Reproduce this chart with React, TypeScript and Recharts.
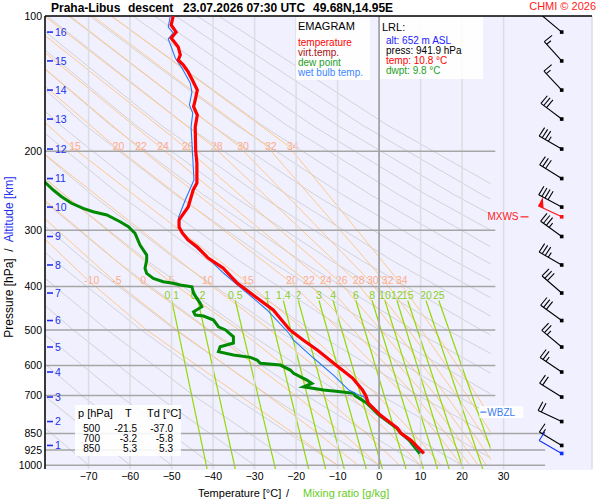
import React from "react";
import {
  ComposedChart,
  Line,
  Scatter,
  XAxis,
  YAxis,
  CartesianGrid,
  ReferenceLine,
} from "recharts";

// Praha-Libus descent 23.07.2026 07:30 UTC, points are [pressure hPa, °C]
const temperature: [number, number][] = [
  [100, -49.6], [104.7, -50.1], [108.6, -48.9], [111.9, -50.1], [117.2, -48.4],
  [122.1, -47.9], [125.3, -48.4], [128.5, -47.2], [133.2, -46.0], [138.8, -45.0],
  [146.2, -43.8], [153.8, -44.3], [159.2, -44.7], [166.1, -43.8], [176.7, -44.3],
  [198.8, -44.2], [212.5, -43.9], [235.4, -43.9], [244.0, -44.8], [266.3, -46.0],
  [281.8, -47.9], [284.7, -48.2], [295.1, -48.2], [304.3, -47.4], [315.3, -46.0],
  [326.9, -43.8], [345.8, -41.2], [364.0, -37.6], [393.1, -34.2], [413.8, -31.0],
  [451.4, -25.5], [500, -21.5], [526.6, -18.3], [554.3, -14.9], [604.9, -9.8],
  [639.9, -6.4], [680.5, -4.0], [700, -3.2], [727.4, -2.6], [773.6, 0.3],
  [826.8, 4.4], [850, 5.3], [879.4, 7.6], [941.9, 10.8],
];

const dewPoint: [number, number][] = [
  [230, -81.5], [244.0, -78.5], [252.5, -76.5], [261.2, -74.1], [268.1, -71.3],
  [272.8, -68.9], [277.4, -65.6], [287.1, -62.4], [294.6, -60.4], [304.8, -58.8],
  [323.6, -57.6], [340.6, -56.0], [349.5, -56.0], [364.6, -56.4], [374.1, -56.0],
  [383.8, -54.4], [390.5, -52.0], [393.7, -49.6], [397.2, -47.9], [400.7, -45.1],
  [414.5, -44.7], [436.3, -43.1], [444.0, -42.7], [455.5, -44.7], [463.3, -44.3],
  [465.5, -42.3], [475.3, -39.9], [491.9, -38.7], [500, -37.0], [517.8, -35.1],
  [534.8, -35.1], [545.0, -38.3], [559.2, -38.7], [568.7, -35.1], [575.5, -31.0],
  [583.5, -29.4], [593.4, -28.6], [598.6, -23.8], [614.2, -21.4], [624.7, -20.6],
  [646.6, -17.4], [657.8, -16.2], [669.3, -18.2], [680.5, -13.4], [686.5, -9.3],
  [692.2, -6.1], [700, -5.8], [727.4, -3.0], [773.6, 0.0], [826.8, 4.2],
  [850, 5.3], [879.4, 7.2], [941.9, 9.8],
];

const wetBulb: [number, number][] = [
  [100, -50.3], [105.8, -50.8], [109.1, -49.6], [112.5, -50.8], [124.0, -49.1],
  [130.6, -47.5], [141.0, -45.5], [147.7, -45.1], [157.8, -45.7], [164.4, -44.9],
  [176.7, -45.3], [198.8, -45.0], [231.8, -44.6], [256.8, -46.7], [280.3, -48.3],
  [295.1, -48.3], [315.3, -46.3], [344.2, -41.5], [373.5, -37.5], [413.8, -31.8],
  [451.4, -27.0], [507.9, -21.8], [526.6, -20.6], [577.5, -15.8], [630.2, -11.0],
  [680.5, -7.3], [698.1, -4.9], [703, -3.8], [773.6, 0.1], [826.8, 4.3],
  [850, 5.3], [879.4, 7.4], [941.9, 10.2],
];

// altitude marks and winds, one per km
const altitudeKm = [16, 15, 14, 13, 12, 11, 10, 9, 8, 7, 6, 5, 4, 3, 2, 1];
const altitudeP = [108.6, 125.9, 146.2, 169.6, 197.8, 230.1, 266.3, 309.7, 358.4, 413.8, 476.5, 545.8, 620.4, 705.3, 799.7, 904.0];
const windDir = [310, 318, 317, 307, 300, 302, 298, 306, 300, 311, 306, 310, 304, 302, 295, 301];
const windKt = [10, 15, 15, 30, 35, 30, 40, 35, 35, 30, 30, 25, 25, 20, 20, 15];

const mxwsP = 280;
const mxwsDir = 295;
const mxwsKt = 50;
const lrlP = 941.9;
const lrlDir = 300;
const lrlKt = 10;
const wbzlP = 762;

// axes
const pressureTicks = [100, 200, 300, 400, 500, 600, 700, 850, 925, 1000];
const tempTicks = [-70, -60, -50, -40, -30, -20, -10, 0, 10, 20, 30];
const upperIsobars = [200, 300, 400, 500, 600, 700];
const lowerIsobars = [850, 925, 1000];

// dry adiabats: °C at each level, one row per line
const dryLevels = [1000, 700, 500, 350, 250, 175, 100];
const dryAdiabats = [
  [-70, -89.7],
  [-60, -80.7, -98.3],
  [-50, -71.6, -90.1],
  [-40, -62.6, -81.9, -100.5],
  [-30, -53.6, -73.7, -93.1],
  [-20, -44.6, -65.5, -85.7],
  [-10, -35.5, -57.3, -78.3, -96.1],
  [0, -26.5, -49.1, -70.9, -89.4],
  [10, -17.5, -40.9, -63.5, -82.7],
  [20, -8.4, -32.7, -56.0, -75.9, -95.1],
  [30, 0.6, -24.5, -48.6, -69.2, -89.0],
  [40, 9.6, -16.3, -41.2, -62.5, -82.9],
  [50, 18.6, -8.1, -33.8, -55.8, -76.8, -105.9],
  [60, 27.7, 0.1, -26.4, -49.0, -70.8, -100.7],
  [70, 36.7, 8.3, -19.0, -42.3, -64.7, -95.5],
  [80, 45.7, 16.5, -11.6, -35.6, -58.6, -90.4],
  [90, 54.8, 24.7, -4.2, -28.9, -52.5, -85.2],
  [100, 63.8, 32.9, 3.2, -22.1, -46.5, -80.0],
  [110, 72.8, 41.1, 10.6, -15.4, -40.4, -74.8],
  [120, 81.9, 49.3, 18.0, -8.7, -34.3, -69.7],
  [130, 90.9, 57.5, 25.4, -2.0, -28.2, -64.5],
  [140, 99.9, 65.7, 32.8, 4.8, -22.2, -59.3],
  [150, 109.0, 73.9, 40.2, 11.5, -16.1, -54.1],
  [160, 118.0, 82.1, 47.6, 18.2, -10.0, -49.0],
  [170, 127.0, 90.3, 55.0, 25.0, -3.9, -43.8],
  [180, 136.0, 98.5, 62.5, 31.7, 2.1, -38.6],
];

// moist adiabats
const moistLevels = [1000, 850, 700, 500, 387, 195, 100];
const moistLabels = [-10, -5, 0, 5, 10, 15, 20, 22, 24, 26, 28, 30, 32, 34];
const moistAdiabats = [
  [-10, -20.5, -33.5, -56.0, -70.2, -104],
  [-5, -14.6, -26.8, -48.7, -64.1, -100],
  [0, -8.7, -20.0, -41.2, -57.8, -96],
  [5, -3.0, -13.5, -33.7, -50.9, -90],
  [10, 2.7, -6.9, -26.2, -42.2, -83],
  [15, 8.4, -0.3, -18.0, -32.5, -74.2, -108.8],
  [20, 14.0, 6.3, -9.5, -21.9, -63.7, -100.2],
  [22, 16.2, 8.8, -6.2, -17.8, -58.3, -95.6],
  [24, 18.4, 11.3, -2.8, -13.7, -53.0, -91.3],
  [26, 20.6, 13.8, 0.5, -9.9, -47.0, -86.4],
  [28, 22.8, 16.3, 3.8, -5.8, -40.0, -80.6],
  [30, 25.0, 18.8, 7.2, -2.4, -33.7, -74.5],
  [32, 27.2, 21.3, 10.3, 1.2, -27.0, -69.0],
  [34, 29.4, 23.7, 13.3, 4.6, -21.7, -64.5],
];

// mixing ratio lines (g/kg): °C at 430 hPa and at 1020 hPa
const mixLevels = [430, 1020];
const mixLabels = ["0.1", "0.2", "0.5", "1", "1.4", "2", "3", "4", "6", "8", "10", "12", "15", "20", "25"];
const mixTop = [-49.9, -43.6, -34.6, -26.9, -23.0, -19.4, -14.4, -11.0, -5.5, -1.6, 1.5, 4.4, 7.0, 11.4, 14.5];
const mixBottom = [-41.4, -34.6, -24.9, -16.9, -12.8, -8.3, -3.0, 0.9, 6.6, 10.8, 14.2, 17.0, 20.4, 25.1, 28.7];

const FONT = '"Liberation Sans", Arial, sans-serif';
const T_MIN = -80.5;
const T_MAX = 51.3;
const T_GUIDE_MAX = 27;
const BARB_T = 44;
const P_DOMAIN: [number, number] = [100, 1020];

const toPts = (rows: [number, number][]) => rows.map(([p, t]) => ({ p, t }));

function Barb(props: any) {
  const { cx, cy, payload } = props;
  if (cx == null || cy == null) return null;
  const col = payload.color;
  const a = (payload.dir * Math.PI) / 180;
  const ux = Math.sin(a);
  const uy = -Math.cos(a);
  // feathers sit on the clockwise side of the staff
  const r = (93 * Math.PI) / 180;
  const fx = ux * Math.cos(r) - uy * Math.sin(r);
  const fy = ux * Math.sin(r) + uy * Math.cos(r);
  const len = 26;
  const tx = cx + ux * len;
  const ty = cy + uy * len;
  const parts: any[] = [];
  let rest = Math.round(payload.kt / 5) * 5;
  let d = 0;
  let k = 0;
  while (rest >= 50) {
    const x0 = tx - ux * d, y0 = ty - uy * d;
    const x1 = tx - ux * (d + 6), y1 = ty - uy * (d + 6);
    parts.push(
      <polygon key={k++} points={`${x0},${y0} ${x0 + fx * 10},${y0 + fy * 10} ${x1},${y1}`} fill={col} />
    );
    d += 7;
    rest -= 50;
  }
  while (rest >= 10) {
    const x0 = tx - ux * d, y0 = ty - uy * d;
    parts.push(<line key={k++} x1={x0} y1={y0} x2={x0 + fx * 10} y2={y0 + fy * 10} stroke={col} strokeWidth={1.1} />);
    d += 3.5;
    rest -= 10;
  }
  if (rest >= 5) {
    if (d === 0) d = 3.5;
    const x0 = tx - ux * d, y0 = ty - uy * d;
    parts.push(<line key={k++} x1={x0} y1={y0} x2={x0 + fx * 5.5} y2={y0 + fy * 5.5} stroke={col} strokeWidth={1.1} />);
  }
  return (
    <g>
      <line x1={cx} y1={cy} x2={tx} y2={ty} stroke={col} strokeWidth={1.1} />
      {parts}
      <rect x={cx - 1.8} y={cy - 1.8} width={3.6} height={3.6} fill={col} />
    </g>
  );
}

function AltTick(props: any) {
  const { cx, cy, payload } = props;
  return (
    <g>
      <line x1={cx + 2} y1={cy} x2={cx + 8} y2={cy} stroke="#2230ee" strokeWidth={1.6} />
      <text x={cx + 10} y={cy + 3.8} fontSize={10.5} fill="#2230ee">{payload.km}</text>
    </g>
  );
}

function LevelTag(props: any) {
  const { cx, cy, payload } = props;
  if (payload.kind === "mxws") {
    return (
      <g>
        <line x1={cx - 8} y1={cy} x2={cx} y2={cy} stroke="#ff2020" strokeWidth={1.2} />
        <text x={cx - 10} y={cy + 3.6} fontSize={10} fill="#ff2020" textAnchor="end">MXWS</text>
      </g>
    );
  }
  return (
    <g>
      <rect x={cx - 1} y={cy - 6} width={44} height={12} fill="#ffffff" fillOpacity={0.9} />
      <line x1={cx} y1={cy} x2={cx + 6} y2={cy} stroke="#3b7cf0" strokeWidth={1.2} />
      <text x={cx + 7} y={cy + 3.6} fontSize={10} fill="#3b7cf0">WBZL</text>
    </g>
  );
}

function MoistLabel(props: any) {
  const { cx, cy, payload } = props;
  return (
    <text x={cx + 4} y={cy + 3.8} fontSize={10.5} fill="#ffac88" textAnchor="middle">{payload.label}</text>
  );
}

function MixLabel(props: any) {
  const { cx, cy, payload } = props;
  return (
    <text x={cx} y={cy - 2} fontSize={10.5} fill="#8ccf1c" textAnchor="middle">{payload.label}</text>
  );
}

function GuideChart() {
  const moistTags: any[] = [];
  moistAdiabats.forEach((row, i) => {
    moistTags.push({ t: row[4], p: moistLevels[4], label: moistLabels[i] });
    if (moistLabels[i] >= 15) moistTags.push({ t: row[5], p: moistLevels[5], label: moistLabels[i] });
  });
  const mixTags = mixLabels.map((label, i) => ({ t: mixTop[i], p: mixLevels[0], label }));
  const guideRight = 600 - (378.7 + 4.145 * T_GUIDE_MAX);
  return (
    <ComposedChart width={600} height={500} margin={{ top: 16, right: guideRight, bottom: 31, left: 45 }}>
      <XAxis hide type="number" dataKey="t" domain={[T_MIN, T_GUIDE_MAX]} allowDataOverflow />
      <YAxis hide type="number" dataKey="p" scale="log" domain={P_DOMAIN} reversed allowDataOverflow />
      {dryAdiabats.map((row, i) => (
        <Line
          key={"d" + i}
          data={row.map((t, j) => ({ p: dryLevels[j], t }))}
          dataKey="p"
          stroke="#d2d2d6"
          strokeWidth={1}
          dot={false}
          activeDot={false}
          isAnimationActive={false}
        />
      ))}
      {moistAdiabats.map((row, i) => (
        <Line
          key={"m" + i}
          data={row.map((t, j) => ({ p: moistLevels[j], t }))}
          dataKey="p"
          stroke="#ffc88c"
          strokeWidth={1}
          dot={false}
          activeDot={false}
          isAnimationActive={false}
        />
      ))}
      {mixLabels.map((label, i) => (
        <Line
          key={"w" + label}
          data={[{ p: mixLevels[0], t: mixTop[i] }, { p: mixLevels[1], t: mixBottom[i] }]}
          dataKey="p"
          stroke="#95d900"
          strokeWidth={1.2}
          dot={false}
          activeDot={false}
          isAnimationActive={false}
        />
      ))}
      <Scatter data={moistTags} shape={MoistLabel} isAnimationActive={false} />
      <Scatter data={mixTags} shape={MixLabel} isAnimationActive={false} />
    </ComposedChart>
  );
}

function MainChart() {
  const altData = altitudeKm.map((km, i) => ({ t: T_MIN, p: altitudeP[i], km }));
  const barbData = [
    ...altitudeP.map((p, i) => ({ t: BARB_T, p, dir: windDir[i], kt: windKt[i], color: "#000" })),
    { t: BARB_T, p: mxwsP, dir: mxwsDir, kt: mxwsKt, color: "#ff1010" },
    { t: BARB_T, p: lrlP, dir: lrlDir, kt: lrlKt, color: "#1030ff" },
  ];
  const tags = [
    { t: 36.0, p: mxwsP, kind: "mxws" },
    { t: 24.4, p: wbzlP, kind: "wbzl" },
  ];
  return (
    <ComposedChart width={600} height={500} margin={{ top: 16, right: 8, bottom: 7, left: 0 }}>
      <CartesianGrid horizontal={false} stroke="#dcdce2" strokeWidth={1.5} />
      <XAxis
        type="number"
        dataKey="t"
        domain={[T_MIN, T_MAX]}
        allowDataOverflow
        ticks={tempTicks}
        interval={0}
        height={24}
        axisLine={false}
        tickLine={false}
        tickSize={2}
        tickMargin={2}
        tick={{ fontSize: 10.5, fill: "#000" }}
        tickFormatter={(v: number) => String(v).replace("-", "\u2212")}
      />
      <YAxis
        type="number"
        dataKey="p"
        scale="log"
        domain={P_DOMAIN}
        reversed
        allowDataOverflow
        ticks={pressureTicks}
        interval={0}
        width={45}
        tickLine={false}
        tickSize={2}
        tickMargin={1}
        axisLine={{ stroke: "#000", strokeWidth: 1.5 }}
        tick={{ fontSize: 10.5, fill: "#000" }}
      />
      <ReferenceLine x={0} stroke="#9a9a9a" strokeWidth={1.5} />
      {upperIsobars.map((p) => (
        <ReferenceLine key={"u" + p} segment={[{ x: T_MIN, y: p }, { x: 28, y: p }]} stroke="#a6a6a6" strokeWidth={1.5} />
      ))}
      {lowerIsobars.map((p) => (
        <ReferenceLine key={"l" + p} segment={[{ x: T_MIN, y: p }, { x: 40, y: p }]} stroke="#a6a6a6" strokeWidth={1.5} />
      ))}
      <ReferenceLine y={100} stroke="#000" strokeWidth={1.5} />
      <Line data={toPts(dewPoint)} dataKey="p" stroke="#008a00" strokeWidth={3} dot={false} activeDot={false} isAnimationActive={false} />
      <Line data={toPts(wetBulb)} dataKey="p" stroke="#2a78f0" strokeWidth={1.1} dot={false} activeDot={false} isAnimationActive={false} />
      <Line data={toPts(temperature)} dataKey="p" stroke="#ff0000" strokeWidth={3.2} dot={false} activeDot={false} isAnimationActive={false} />
      <Scatter data={altData} shape={AltTick} isAnimationActive={false} />
      <Scatter data={tags} shape={LevelTag} isAnimationActive={false} />
      <Scatter data={barbData} shape={Barb} isAnimationActive={false} />
    </ComposedChart>
  );
}

function Overlay() {
  return (
    <svg width={600} height={500} style={{ position: "absolute", left: 0, top: 0, pointerEvents: "none" }} fontFamily={FONT}>
      <g fontWeight="bold" fontSize={12} fill="#000">
        <text x={51} y={11.5}>Praha-Libus</text>
        <text x={128} y={11.5}>descent</text>
        <text x={183} y={11.5}>23.07.2026 07:30 UTC</text>
        <text x={313} y={11.5}>49.68N,14.95E</text>
      </g>
      <text x={596} y={10.3} fontSize={11} fill="#ff2020" textAnchor="end">CHMI © 2026</text>

      <rect x={296} y={17} width={74} height={63} fill="#fff" fillOpacity={0.88} />
      <text x={298} y={30} fontSize={11} fill="#000">EMAGRAM</text>
      <text x={298} y={45.6} fontSize={10} fill="#ff0000">temperature</text>
      <text x={298} y={55.6} fontSize={10} fill="#a81010">virt.temp.</text>
      <text x={298} y={65.6} fontSize={10} fill="#1e9e1e">dew point</text>
      <text x={298} y={75.6} fontSize={10} fill="#3c86ff">wet bulb temp.</text>

      <rect x={380} y={17} width={103} height={62} fill="#fff" fillOpacity={0.88} />
      <text x={382} y={31} fontSize={11} fill="#000">LRL:</text>
      <text x={386} y={43.8} fontSize={10} fill="#2020ff">alt: 652 m ASL</text>
      <text x={386} y={53.8} fontSize={10} fill="#000">press: 941.9 hPa</text>
      <text x={386} y={63.8} fontSize={10} fill="#ff0000">temp: 10.8 °C</text>
      <text x={386} y={73.8} fontSize={10} fill="#1e9e1e">dwpt: 9.8 °C</text>

      <rect x={75} y={405} width={106} height={51} fill="#fff" fillOpacity={0.88} />
      <g fontSize={11} fill="#000">
        <text x={78} y={417}>p [hPa]</text>
        <text x={125} y={417}>T</text>
        <text x={147} y={417}>Td [°C]</text>
      </g>
      <g fontSize={10} fill="#000" textAnchor="end">
        <text x={100} y={432.4}>500</text>
        <text x={137} y={432.4}>-21.5</text>
        <text x={173} y={432.4}>-37.0</text>
        <text x={100} y={442.4}>700</text>
        <text x={137} y={442.4}>-3.2</text>
        <text x={173} y={442.4}>-5.8</text>
        <text x={100} y={452.4}>850</text>
        <text x={137} y={452.4}>5.3</text>
        <text x={173} y={452.4}>5.3</text>
      </g>

      <text transform="translate(12.5,257) rotate(-90)" fontSize={12} textAnchor="middle" style={{ whiteSpace: "pre" }}>
        <tspan fill="#000">Pressure [hPa]  /  </tspan>
        <tspan fill="#2230ee">Altitude [km]</tspan>
      </text>
      <text x={198} y={497} fontSize={11} fill="#000">Temperature [°C]</text>
      <text x={286} y={497} fontSize={11} fill="#000">/</text>
      <text x={303} y={497} fontSize={11} fill="#66cc22">Mixing ratio [g/kg]</text>
    </svg>
  );
}

export default function App() {
  return (
    <div style={{ position: "absolute", left: 0, top: 0, width: 600, height: 500, background: "#fff", fontFamily: FONT }}>
      <div style={{ position: "absolute", left: 45, top: 16, width: 547, height: 454, background: "#f0f0ff" }} />
      <div style={{ position: "absolute", left: 0, top: 0 }}>
        <GuideChart />
      </div>
      <div style={{ position: "absolute", left: 0, top: 0 }}>
        <MainChart />
      </div>
      <Overlay />
    </div>
  );
}
